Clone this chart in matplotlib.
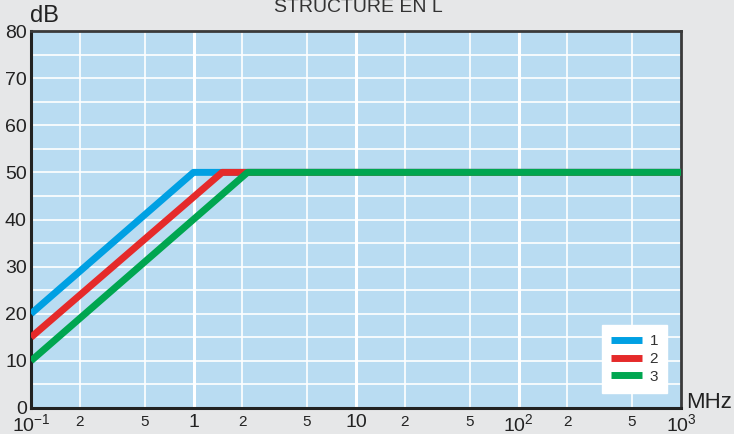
import matplotlib.pyplot as plt
from matplotlib.ticker import FixedLocator

# Attenuation curves, L structure (frequency in MHz, attenuation in dB)
freq_1 = [0.1, 1.0, 1000]
att_1 = [20, 50, 50]
freq_2 = [0.1, 1.5, 1000]
att_2 = [15, 50, 50]
freq_3 = [0.1, 2.15, 1000]
att_3 = [10, 50, 50]

series_labels = ['1', '2', '3']
series_colors = ['#00a0e3', '#e52a2a', '#00a650']

x_major = [0.1, 1, 10, 100, 1000]
x_major_labels = ['$10^{-1}$', '1', '10', '$10^{2}$', '$10^{3}$']
x_minor = [0.2, 0.5, 2, 5, 20, 50, 200, 500]
x_minor_labels = ['2', '5', '2', '5', '2', '5', '2', '5']
y_ticks = [0, 10, 20, 30, 40, 50, 60, 70, 80]

plt.rcParams['font.family'] = ['Liberation Sans', 'DejaVu Sans']
plt.rcParams['mathtext.fontset'] = 'custom'
plt.rcParams['mathtext.rm'] = 'Liberation Sans'
plt.rcParams['mathtext.it'] = 'Liberation Sans'
plt.rcParams['mathtext.default'] = 'rm'

fig = plt.figure(figsize=(7.34, 4.34), dpi=100, facecolor='#e6e7e8')
ax = fig.add_axes([31 / 734, 26 / 434, 650 / 734, 377 / 434])
ax.set_facecolor('#b9dcf2')

ax.set_xscale('log')
ax.set_xlim(0.1, 1000)
ax.set_ylim(0, 80)

# grid: thin lines at 2 and 5, thick at decades, every 5 dB horizontally
for x in x_minor:
    ax.axvline(x, color='white', lw=1.2, zorder=1)
for x in x_major[1:-1]:
    ax.axvline(x, color='white', lw=2.2, zorder=1)
for y in range(5, 80, 5):
    ax.axhline(y, color='white', lw=1.2, zorder=1)

for xs, ys, c, lab in zip([freq_1, freq_2, freq_3], [att_1, att_2, att_3],
                          series_colors, series_labels):
    ax.plot(xs, ys, color=c, lw=5, solid_capstyle='butt', label=lab, zorder=3)

ax.xaxis.set_major_locator(FixedLocator(x_major))
ax.xaxis.set_minor_locator(FixedLocator(x_minor))
ax.set_xticklabels(x_major_labels, fontsize=14, color='#222222')
ax.set_xticklabels(x_minor_labels, minor=True, fontsize=11, color='#222222')
ax.tick_params(axis='x', which='major', length=0, pad=4)
ax.tick_params(axis='x', which='minor', length=0, pad=5)
ax.set_yticks(y_ticks)
ax.set_yticklabels([str(v) for v in y_ticks], fontsize=14, color='#222222')
ax.tick_params(axis='y', length=0, pad=3)
# nudge the "0" up a few pixels so it clears the 10^-1 label below
ax.get_yticklabels()[0].set_y(1.0)

for side in ['top', 'right']:
    ax.spines[side].set_color('#3a3a3a')
    ax.spines[side].set_linewidth(2)
for side in ['left', 'bottom']:
    ax.spines[side].set_color('#222222')
    ax.spines[side].set_linewidth(2.2)

leg = ax.legend(loc='lower right', bbox_to_anchor=(0.979, 0.04), fontsize=11,
                frameon=True, fancybox=False, handlelength=2.0, handletextpad=0.5,
                labelspacing=0.25, borderpad=0.6, borderaxespad=0)
leg.get_frame().set_facecolor('white')
leg.get_frame().set_edgecolor('white')
leg.get_frame().set_alpha(1)
for t in leg.get_texts():
    t.set_color('#333333')

fig.text(44 / 734, 1 - 16 / 434, 'dB', fontsize=17, color='#222222', va='center', ha='center')
fig.text(709 / 734, 1 - 402 / 434, 'MHz', fontsize=16, color='#222222', va='center', ha='center')
fig.text(358 / 734, 1 - 8 / 434, 'STRUCTURE EN L', fontsize=14, color='#333333', va='center', ha='center')

fig.savefig('out.png', dpi=100, facecolor=fig.get_facecolor())
